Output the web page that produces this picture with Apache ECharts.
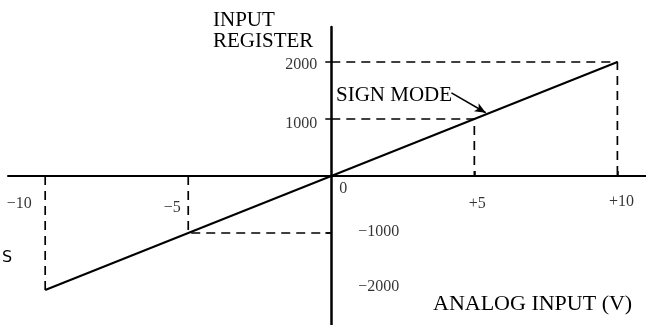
<!DOCTYPE html>
<html>
<head>
<meta charset="utf-8">
<script src="https://cdn.jsdelivr.net/npm/echarts@6/dist/echarts.min.js"></script>
<style>
  html, body { margin: 0; padding: 0; background: #fff; }
  #chart { width: 646px; height: 325px; }
</style>
</head>
<body>
<div id="chart"></div>
<script>
// data
const xTickValues = [-10, -5, 0, 5, 10];
const xTickLabels = ['\u221210', '\u22125', '0', '+5', '+10'];
const yTickValues = [2000, 1000, -1000, -2000];
const yTickLabels = ['2000', '1000', '\u22121000', '\u22122000'];
const transferLine = [[-10, -2000], [10, 2000]];
const guideLines = [
  [[-10, 0], [-10, -2000]],
  [[-5, 0], [-5, -1000], [0, -1000]],
  [[0, 1000], [5, 1000], [5, 0]],
  [[0, 2000], [10, 2000], [10, 0]]
];
const arrowFrom = [4.2, 1460];
const arrowTo = [5.4, 1110];

// label placement (pixels), kept apart from the data
const xLabelOffsets = [[-26, 28], [-16, 32], [12, 13], [3, 28], [4, 26]];
const yLabelOffsets = [[-14, 3], [-14, 5], [27, -1], [27, -3]];
const yLabelAlign = ['right', 'right', 'left', 'left'];

const serif = '"Liberation Serif", "DejaVu Serif", serif';
const ink = '#000';

const chart = echarts.init(document.getElementById('chart'), null, { renderer: 'canvas' });

const xLabelData = xTickValues.map((v, i) => ({
  value: [v, 0],
  name: xTickLabels[i],
  label: { offset: xLabelOffsets[i] }
}));
const yLabelData = yTickValues.map((v, i) => ({
  value: [0, v],
  name: yTickLabels[i],
  label: { offset: yLabelOffsets[i], align: yLabelAlign[i] }
}));

const tickLabelStyle = {
  show: true,
  position: 'inside',
  formatter: p => p.name,
  fontFamily: serif,
  fontSize: 16,
  color: ink,
  verticalAlign: 'middle',
  align: 'center'
};

const series = [
  {
    type: 'line',
    data: transferLine,
    symbol: 'none',
    silent: true,
    lineStyle: { color: ink, width: 2 },
    z: 5,
    markLine: {
      silent: true,
      symbol: ['none', 'arrow'],
      symbolSize: [7, 11],
      label: { show: false },
      lineStyle: { color: ink, width: 1.5, type: 'solid' },
      data: [[{ coord: arrowFrom }, { coord: arrowTo }]]
    }
  }
];
guideLines.forEach(g => series.push({
  type: 'line',
  data: g,
  symbol: 'none',
  silent: true,
  lineStyle: { color: ink, width: 1.7, type: [9, 6] }
}));
series.push({
  type: 'scatter',
  data: xLabelData,
  symbolSize: 0,
  silent: true,
  label: tickLabelStyle
});
series.push({
  type: 'scatter',
  data: yLabelData,
  symbolSize: 0,
  silent: true,
  label: tickLabelStyle
});

chart.setOption({
  animation: false,
  backgroundColor: '#fff',
  grid: { left: 8, right: 0, top: 27, bottom: 0, outerBoundsMode: 'none' },
  xAxis: {
    type: 'value',
    min: -11.3,
    max: 11,
    axisLine: { onZero: true, lineStyle: { color: ink, width: 2 } },
    axisTick: { show: true, inside: true, length: 5, customValues: [5, 10], lineStyle: { color: ink, width: 1.5 } },
    axisLabel: { show: false },
    splitLine: { show: false }
  },
  yAxis: {
    type: 'value',
    min: -2614,
    max: 2614,
    axisLine: { onZero: true, lineStyle: { color: ink, width: 2.5 } },
    axisTick: { show: true, length: 6, customValues: [2000, 1000, -1000], lineStyle: { color: ink, width: 1.5 } },
    axisLabel: { show: false },
    splitLine: { show: false }
  },
  graphic: [
    { type: 'text', left: 213, top: 10, style: { text: 'INPUT', font: '21px ' + serif, fill: ink } },
    { type: 'text', left: 213, top: 31, style: { text: 'REGISTER', font: '21px ' + serif, fill: ink } },
    { type: 'text', left: 336, top: 85, style: { text: 'SIGN MODE', font: '21px ' + serif, fill: ink } },
    { type: 'text', left: 433, top: 293, style: { text: 'ANALOG INPUT (V)', font: '22px ' + serif, fill: ink } },
    { type: 'text', left: 2, top: 250, style: { text: 'S', font: '16px "DejaVu Sans", sans-serif', fill: ink } }
  ],
  series: series
});
</script>
</body>
</html>
